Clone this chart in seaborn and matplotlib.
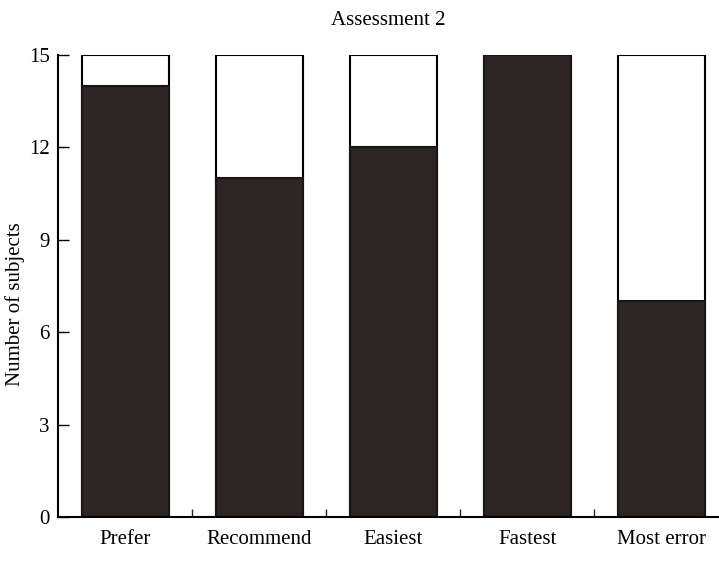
import matplotlib
matplotlib.use("Agg")
from matplotlib import pyplot as plt
import seaborn as sns

categories = ["Prefer", "Recommend", "Easiest", "Fastest", "Most error"]
subjects = [14, 11, 12, 15, 7]
total = [15, 15, 15, 15, 15]
y_ticks = [0, 3, 6, 9, 12, 15]

sns.set_theme(style="ticks")
plt.rcParams["font.family"] = ["Liberation Serif", "DejaVu Serif"]

fig = plt.figure(figsize=(7.19, 5.76), dpi=100)
ax = fig.add_axes([0.081, 0.1024, 0.919, 0.802])

# white outline for the full group, dark part for the count
sns.barplot(x=categories, y=total, color="white", edgecolor="black",
            linewidth=1.5, width=0.65, saturation=1, ax=ax)
sns.barplot(x=categories, y=subjects, color="#2b2523", edgecolor="#1a1514",
            linewidth=1.5, width=0.65, saturation=1, ax=ax)

ax.set_xlim(-0.5, 4.43)
ax.set_ylim(0, 15)
ax.set_yticks(y_ticks)
ax.set_xticks([0.5, 1.5, 2.5, 3.5], minor=True)
ax.tick_params(axis="y", direction="in", length=8, width=1, pad=6,
               labelsize=15, colors="black")
ax.tick_params(axis="x", which="major", length=0, pad=9, labelsize=15,
               colors="black")
ax.tick_params(axis="x", which="minor", direction="in", length=6, width=1)

sns.despine(ax=ax)
for s in ["left", "bottom"]:
    ax.spines[s].set_linewidth(1.5)
    ax.spines[s].set_color("black")

ax.set_ylabel("Number of subjects", fontsize=15, color="black")
ax.yaxis.set_label_coords(-0.05, 0.46)
ax.set_title("Assessment 2", fontsize=15, pad=22, color="black")

plt.savefig("out.png", dpi=100)
